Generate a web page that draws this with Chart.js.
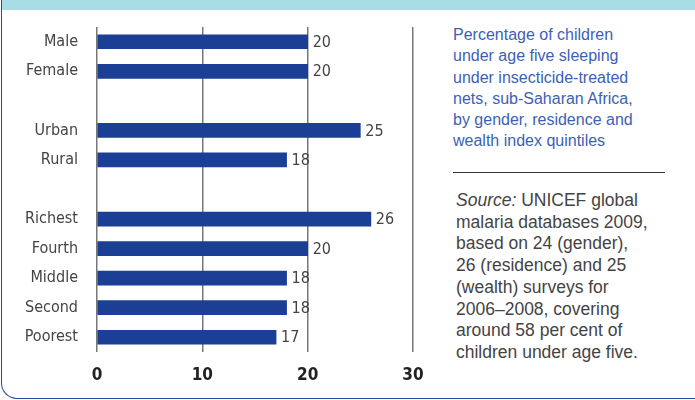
<!DOCTYPE html>
<html>
<head>
<meta charset="utf-8">
<script src="https://cdn.jsdelivr.net/npm/chart.js@4"></script>
<style>
  html, body { margin: 0; padding: 0; background: #fff; }
  body { width: 695px; height: 400px; position: relative; overflow: hidden; }
  #band { position: absolute; left: 2px; top: 0; width: 693px; height: 10px; background: #a8dde6; }
  #frame { position: absolute; left: 1px; top: 0; width: 760px; height: 398px;
           border-left: 1.5px solid #2b4a9c; border-bottom: 1.5px solid #2b4a9c;
           border-bottom-left-radius: 16px; }
  #wrap { position: absolute; left: 0; top: 0; width: 440px; height: 400px; }
  #title { position: absolute; left: 453px; top: 24px; width: 240px;
           font: 16px "Liberation Sans", Arial, sans-serif; line-height: 21.3px; color: #3d5fb5; }
  #rule { position: absolute; left: 453px; top: 172px; width: 212px; height: 1px; background: #333; }
  #source { position: absolute; left: 456px; top: 190px; width: 240px;
            font: 17.5px "Liberation Sans", Arial, sans-serif; line-height: 21.7px; color: #444; }
</style>
</head>
<body>
<div id="band"></div>
<div id="frame"></div>
<div id="wrap"><canvas id="myChart"></canvas></div>
<div id="title">Percentage of children<br>under age five sleeping<br>under insecticide-treated<br>nets, sub-Saharan Africa,<br>by gender, residence and<br>wealth index quintiles</div>
<div id="rule"></div>
<div id="source"><i>Source:</i> UNICEF global<br>malaria databases 2009,<br>based on 24 (gender),<br>26 (residence) and 25<br>(wealth) surveys for<br>2006–2008, covering<br>around 58 per cent of<br>children under age five.</div>
<script>
let labels = ['Male', 'Female', '', 'Urban', 'Rural', '', 'Richest', 'Fourth', 'Middle', 'Second', 'Poorest'];
let values = [20, 20, null, 25, 18, null, 26, 20, 18, 18, 17];
let ticks = [0, 10, 20, 30];

let narrow = '"Liberation Sans Narrow", "DejaVu Sans Condensed", Roboto, sans-serif';

// value labels at the end of each bar
let barLabels = {
  id: 'barLabels',
  afterDatasetsDraw(chart) {
    let c = chart.ctx;
    let meta = chart.getDatasetMeta(0);
    c.save();
    c.font = '16px ' + narrow;
    c.fillStyle = '#444';
    c.textBaseline = 'middle';
    meta.data.forEach((bar, i) => {
      if (values[i] == null) return;
      c.fillText(values[i], bar.x + 5, bar.y + 1);
    });
    c.restore();
  }
};

let ctx = document.getElementById('myChart').getContext('2d');
let myChart = new Chart(ctx, {
  type: 'bar',
  data: {
    labels: labels,
    datasets: [{
      data: values,
      backgroundColor: '#1b3f94',
      barThickness: 14
    }]
  },
  options: {
    indexAxis: 'y',
    responsive: true,
    maintainAspectRatio: false,
    animation: false,
    layout: { padding: { top: 27, right: 27, left: 0, bottom: 0 } },
    plugins: { legend: { display: false }, tooltip: { enabled: false } },
    scales: {
      x: {
        min: 0,
        max: 30,
        afterBuildTicks: (s) => { s.ticks = ticks.map(v => ({ value: v })); },
        afterFit: (s) => { s.height = 48; },
        grid: { color: '#777', lineWidth: 1.5, drawTicks: false },
        border: { display: false },
        ticks: {
          padding: 13,
          color: '#222',
          font: { family: narrow, size: 17, weight: 'bold' }
        }
      },
      y: {
        afterFit: (s) => { s.width = 97; },
        grid: { display: false },
        border: { display: false },
        ticks: {
          padding: 11,
          color: '#444',
          font: { family: narrow, size: 16 }
        }
      }
    }
  },
  plugins: [barLabels]
});
</script>
</body>
</html>
